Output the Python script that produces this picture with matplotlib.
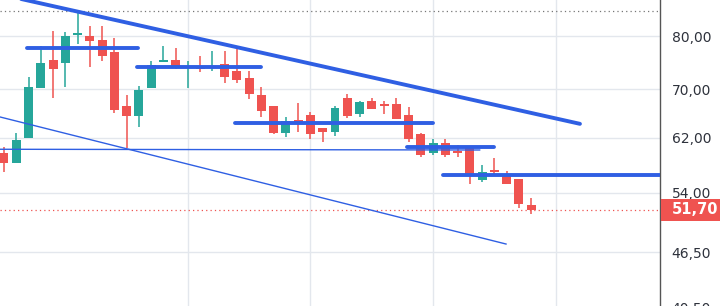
import matplotlib
matplotlib.use('Agg')
import matplotlib.pyplot as plt
from matplotlib.ticker import FixedLocator, FuncFormatter, NullLocator
from matplotlib.patches import Rectangle

# Candles (daily OHLC)
opens = [59.7, 58.1, 62.0, 70.2, 75.3, 74.8, 80.2, 80.0, 79.2, 76.9,
         67.1, 65.5, 70.2, 75.0, 75.3, 73.9, 74.2, 73.9, 74.6, 73.3,
         72.0, 69.0, 67.1, 62.75, 64.8, 65.65, 63.5, 62.9, 68.5, 65.8,
         68.0, 67.5, 67.5, 65.65, 62.6, 59.7, 61.2, 60.0, 60.4, 55.8,
         57.2, 56.6, 55.9, 52.4]
highs = [60.6, 62.75, 72.2, 78.0, 81.0, 80.8, 85.2, 82.0, 82.0, 79.6,
         69.0, 70.6, 75.2, 78.0, 77.6, 75.15, 76.1, 77.1, 77.1, 78.0,
         73.3, 70.4, 67.1, 65.3, 67.65, 66.15, 63.5, 67.1, 69.2, 68.0,
         68.5, 68.0, 68.5, 67.0, 62.75, 61.8, 61.8, 60.9, 60.4, 57.9,
         58.9, 57.0, 55.9, 53.3]
lows = [56.9, 58.1, 62.0, 70.2, 68.5, 70.4, 78.4, 74.0, 75.15, 66.0,
        60.4, 63.7, 70.2, 75.0, 73.7, 70.2, 73.1, 73.3, 71.1, 71.1,
        68.3, 65.3, 62.6, 62.1, 62.9, 61.8, 61.35, 62.3, 65.2, 65.3,
        66.6, 65.8, 65.0, 61.35, 59.1, 59.4, 59.1, 59.1, 55.2, 55.4,
        56.6, 55.2, 52.0, 51.2]
closes = [58.1, 61.7, 70.4, 74.8, 73.7, 80.0, 80.6, 79.0, 76.1, 66.5,
          65.5, 69.9, 74.4, 75.3, 74.0, 74.1, 73.7, 74.1, 72.2, 71.7,
          69.2, 66.2, 62.75, 64.7, 64.2, 62.6, 62.9, 66.8, 65.5, 67.8,
          66.6, 67.1, 65.0, 61.8, 59.4, 61.2, 59.4, 59.7, 56.3, 56.9,
          56.8, 55.2, 52.5, 51.7]

# Price axis
price_ticks = [80.0, 70.0, 62.0, 54.0, 46.5, 40.5]
last_price = 51.70
period_high = 85.2
time_grid = [15, 25, 35, 45]

# Drawn lines: (x0, p0, x1, p1) in candle index / price
thick_lines = [(0.1, 88.6, 46.98, 64.18),
               (1.88, 77.57, 10.93, 77.57),
               (10.85, 73.96, 20.96, 73.96),
               (18.84, 64.27, 34.99, 64.27),
               (32.87, 60.51, 39.97, 60.51),
               (35.8, 56.40, 53.6, 56.40)]
thin_lines = [(-0.33, 60.21, 38.8, 60.10),
              (-0.33, 65.3, 40.95, 47.46)]

green = '#26a69a'
red = '#ef5350'
blue = '#2f5fe3'

fig = plt.figure(figsize=(7.28, 3.06), dpi=100)
# axes runs a little past the bottom edge, so the lowest label is cut like the original
ax = fig.add_axes([0, -20 / 306, 660 / 728, 326 / 306])
ax.set_yscale('log')
ax.set_xlim(-0.326, 53.51)
ax.set_ylim(38.63, 87.59)

# grid
for p in price_ticks:
    ax.axhline(p, color='#e3e7ed', lw=1, zorder=0)
for t in time_grid:
    ax.axvline(t, color='#e3e7ed', lw=1, zorder=0)

# candles
for i, (o, h, l, c) in enumerate(zip(opens, highs, lows, closes)):
    col = green if c >= o else red
    ax.vlines(i, l, h, color=col, lw=1.1, zorder=2)
    lo, hi = min(o, c), max(o, c)
    if hi - lo < 0.2:
        hi = lo + 0.2
    ax.bar(i, hi - lo, bottom=lo, width=0.73, color=col, lw=0, zorder=3)

# drawings
for x0, p0, x1, p1 in thick_lines:
    ax.plot([x0, x1], [p0, p1], color=blue, lw=2.8, solid_capstyle='round', zorder=4)
for x0, p0, x1, p1 in thin_lines:
    ax.plot([x0, x1], [p0, p1], color=blue, lw=1.0, zorder=4)

# high / last price lines
ax.axhline(period_high, color='#777777', lw=0.9, ls=(0, (1, 2.5)), zorder=1)
ax.axhline(last_price, color=red, lw=0.9, ls=(0, (1, 2.5)), zorder=1)

# axis styling
for s in ['top', 'left', 'bottom']:
    ax.spines[s].set_visible(False)
ax.spines['right'].set_color('#555555')
ax.spines['right'].set_linewidth(1)
ax.xaxis.set_visible(False)
ax.yaxis.tick_right()
ax.yaxis.set_major_locator(FixedLocator(price_ticks))
ax.yaxis.set_minor_locator(NullLocator())
ax.yaxis.set_major_formatter(FuncFormatter(lambda v, pos: f'{v:.2f}'.replace('.', ',')))
ax.tick_params(axis='y', length=0, pad=8.5, labelsize=10, labelcolor='#2e323c')
ax.set_facecolor('white')

# last price badge
y_disp = ax.transData.transform((0, last_price))[1]
y_fig = fig.transFigure.inverted().transform((0, y_disp))[1]
fig.patches.append(Rectangle((661 / 728, y_fig - 11 / 306), 59 / 728, 22 / 306,
                             transform=fig.transFigure, facecolor=red,
                             edgecolor='none', zorder=5))
fig.text(672 / 728, y_fig, '51,70', color='white', fontsize=10.5,
         fontweight='bold', va='center', ha='left', zorder=6)

fig.savefig('out.png', dpi=100, facecolor='white')
